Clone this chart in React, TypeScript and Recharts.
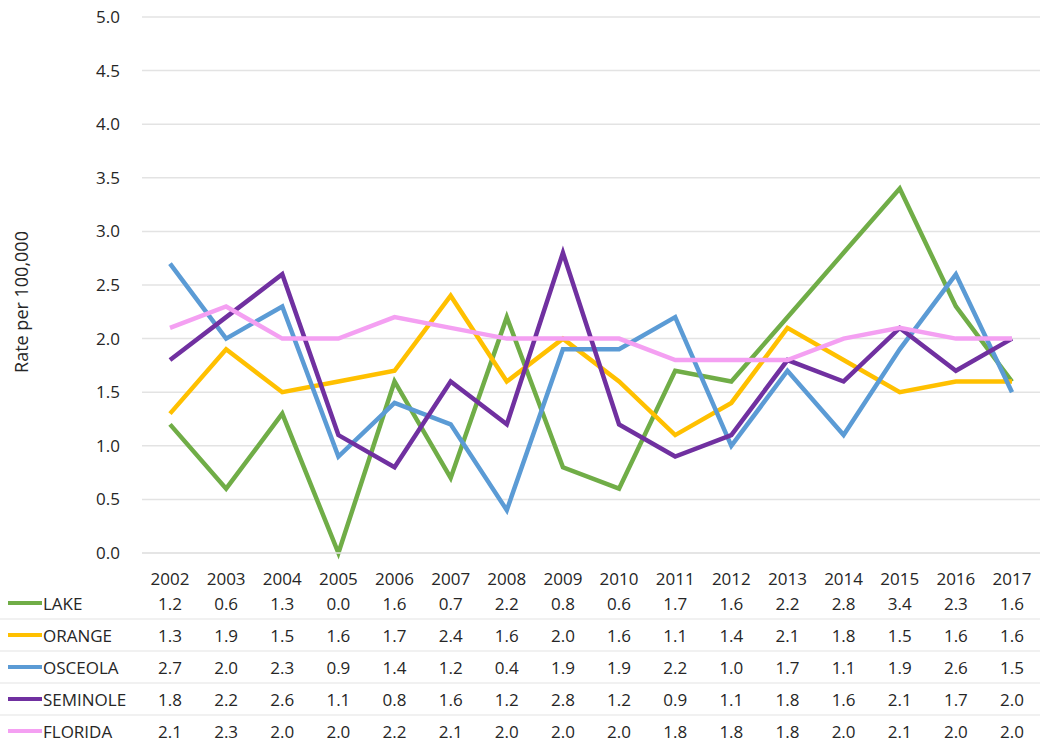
import { LineChart, Line, XAxis, YAxis, CartesianGrid } from "recharts";

const years = ["2002", "2003", "2004", "2005", "2006", "2007", "2008", "2009", "2010", "2011", "2012", "2013", "2014", "2015", "2016", "2017"];
const lake = [1.2, 0.6, 1.3, 0.0, 1.6, 0.7, 2.2, 0.8, 0.6, 1.7, 1.6, 2.2, 2.8, 3.4, 2.3, 1.6];
const orange = [1.3, 1.9, 1.5, 1.6, 1.7, 2.4, 1.6, 2.0, 1.6, 1.1, 1.4, 2.1, 1.8, 1.5, 1.6, 1.6];
const osceola = [2.7, 2.0, 2.3, 0.9, 1.4, 1.2, 0.4, 1.9, 1.9, 2.2, 1.0, 1.7, 1.1, 1.9, 2.6, 1.5];
const seminole = [1.8, 2.2, 2.6, 1.1, 0.8, 1.6, 1.2, 2.8, 1.2, 0.9, 1.1, 1.8, 1.6, 2.1, 1.7, 2.0];
const florida = [2.1, 2.3, 2.0, 2.0, 2.2, 2.1, 2.0, 2.0, 2.0, 1.8, 1.8, 1.8, 2.0, 2.1, 2.0, 2.0];
const yTicks = [0, 0.5, 1, 1.5, 2, 2.5, 3, 3.5, 4, 4.5, 5];

const series = [
  { key: "LAKE", values: lake, color: "#70AD47" },
  { key: "ORANGE", values: orange, color: "#FFC000" },
  { key: "OSCEOLA", values: osceola, color: "#5B9BD5" },
  { key: "SEMINOLE", values: seminole, color: "#7030A0" },
  { key: "FLORIDA", values: florida, color: "#F4A0F2" },
];

const data = years.map((year, i) => {
  const row: Record<string, string | number> = { year };
  series.forEach((s) => {
    row[s.key] = s.values[i];
  });
  return row;
});

const FONT = "'Open Sans', sans-serif";
const TEXT = "#262626";
const ROW_H = 32;

// year label plus the data-table column under it
function TableTick(props: any) {
  const { x, y, payload, index } = props;
  return (
    <g>
      {index === 0 &&
        series.map((s, r) => {
          const cy = y + 50 + r * ROW_H;
          return (
            <g key={s.key}>
              <line x1={8} x2={42} y1={cy} y2={cy} stroke={s.color} strokeWidth={4} />
              <text x={43} y={cy} dominantBaseline="central" fontSize={17} fill={TEXT} fontFamily={FONT}>
                {s.key}
              </text>
              {r < series.length - 1 && (
                <line x1={0} x2={1040} y1={cy + ROW_H / 2} y2={cy + ROW_H / 2} stroke="#E3E3E3" strokeWidth={1} />
              )}
            </g>
          );
        })}
      <text x={x} y={y + 25} textAnchor="middle" dominantBaseline="central" fontSize={17} fill={TEXT} fontFamily={FONT}>
        {payload.value}
      </text>
      {series.map((s, r) => (
        <text
          key={s.key}
          x={x}
          y={y + 50 + r * ROW_H}
          textAnchor="middle"
          dominantBaseline="central"
          fontSize={17}
          fill={TEXT}
          fontFamily={FONT}
        >
          {s.values[index].toFixed(1)}
        </text>
      ))}
    </g>
  );
}

function YLabel(props: any) {
  const vb = props.viewBox || {};
  const cx = 21;
  const cy = (vb.y ?? 17) + (vb.height ?? 536) / 2 + 17;
  return (
    <text
      x={cx}
      y={cy}
      transform={`rotate(-90, ${cx}, ${cy})`}
      textAnchor="middle"
      dominantBaseline="central"
      fontSize={18}
      fill={TEXT}
      fontFamily={FONT}
    >
      Rate per 100,000
    </text>
  );
}

export default function App() {
  return (
    <div style={{ position: "absolute", left: 0, top: 0, background: "#fff" }}>
      <LineChart width={1054} height={746} data={data} margin={{ top: 17, right: 14, left: 0, bottom: 0 }}>
        <CartesianGrid vertical={false} stroke="#E3E3E3" strokeWidth={1.5} />
        <XAxis
          dataKey="year"
          height={193}
          interval={0}
          tickLine={false}
          tickSize={0}
          tickMargin={0}
          axisLine={{ stroke: "#E3E3E3", strokeWidth: 1.5 }}
          padding={{ left: 28, right: 28 }}
          tick={<TableTick />}
        />
        <YAxis
          width={142}
          domain={[0, 5]}
          ticks={yTicks}
          interval={0}
          axisLine={false}
          tickLine={false}
          tickSize={0}
          tickMargin={22}
          tickFormatter={(v: number) => v.toFixed(1)}
          tick={{ fontSize: 17, fill: TEXT, fontFamily: FONT }}
          label={<YLabel />}
        />
        {series.map((s) => (
          <Line
            key={s.key}
            dataKey={s.key}
            stroke={s.color}
            strokeWidth={4.5}
            dot={false}
            type="linear"
            isAnimationActive={false}
          />
        ))}
      </LineChart>
    </div>
  );
}
